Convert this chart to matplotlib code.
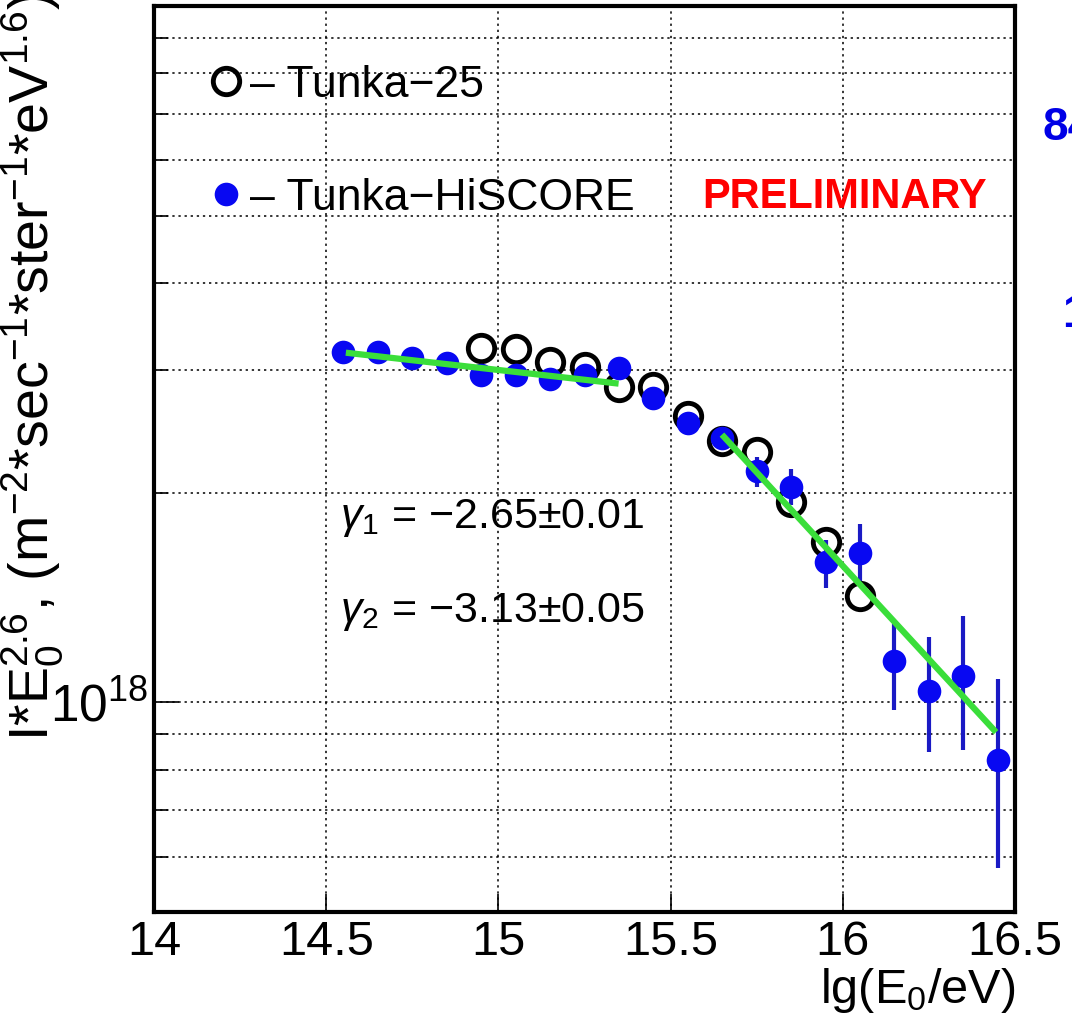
import matplotlib.pyplot as plt
import numpy as np
from matplotlib.ticker import FixedLocator, LogLocator, NullFormatter, FixedFormatter

plt.rcParams['font.family'] = ['Liberation Sans', 'DejaVu Sans']
plt.rcParams['mathtext.fontset'] = 'custom'
plt.rcParams['mathtext.rm'] = 'Liberation Sans'
plt.rcParams['mathtext.it'] = 'Liberation Sans:italic'
plt.rcParams['mathtext.bf'] = 'Liberation Sans:bold'

# Tunka-HiSCORE spectrum, I*E^2.6 in units of 1e18
lg_hiscore = np.array([14.55, 14.65, 14.75, 14.85, 14.95, 15.05, 15.15, 15.25, 15.35, 15.45,
                       15.55, 15.65, 15.75, 15.85, 15.95, 16.05, 16.15, 16.25, 16.35, 16.45])
flux_hiscore = np.array([3.18, 3.18, 3.12, 3.07, 2.95, 2.95, 2.91, 2.95, 3.02, 2.74,
                         2.52, 2.40, 2.15, 2.04, 1.59, 1.64, 1.145, 1.04, 1.09, 0.826])
err_lo = np.array([0.02, 0.02, 0.02, 0.02, 0.02, 0.02, 0.02, 0.02, 0.02, 0.03,
                   0.03, 0.04, 0.11, 0.12, 0.13, 0.155, 0.171, 0.192, 0.237, 0.248])
err_hi = np.array([0.02, 0.02, 0.02, 0.02, 0.02, 0.02, 0.02, 0.02, 0.02, 0.03,
                   0.03, 0.04, 0.10, 0.126, 0.12, 0.165, 0.149, 0.20, 0.239, 0.253])

# Tunka-25 spectrum
lg_t25 = np.array([14.95, 15.05, 15.15, 15.25, 15.35, 15.45, 15.55, 15.65, 15.75, 15.85, 15.95, 16.05])
flux_t25 = np.array([3.23, 3.22, 3.08, 3.03, 2.84, 2.84, 2.58, 2.37, 2.29, 1.94, 1.70, 1.42])

# power law fits
fit1_lg = np.array([14.557, 15.349])
fit1_flux = np.array([3.178, 2.869])
fit2_lg = np.array([15.649, 16.445])
fit2_flux = np.array([2.424, 0.906])

x_ticks = [14, 14.5, 15, 15.5, 16, 16.5]
x_labels = ['14', '14.5', '15', '15.5', '16', '16.5']

unit = 1e18

fig = plt.figure(figsize=(10.72, 10.22), dpi=100)
ax = fig.add_axes([154/1072, 1 - 912/1022, 861/1072, 906/1022])

ax.errorbar(lg_hiscore, flux_hiscore*unit, yerr=[err_lo*unit, err_hi*unit], fmt='none',
            ecolor='#1a1ac4', elinewidth=3, capsize=0, zorder=3)
circ, = ax.plot(lg_t25, flux_t25*unit, 'o', mfc='none', mec='k', ms=19, mew=3.5, zorder=3)
dots, = ax.plot(lg_hiscore, flux_hiscore*unit, 'o', color='#0808f2', ms=17, mew=0, zorder=4)
ax.plot(fit1_lg, fit1_flux*unit, color='#3ade3a', lw=4.5, zorder=5, solid_capstyle='butt')
ax.plot(fit2_lg, fit2_flux*unit, color='#3ade3a', lw=4.5, zorder=5, solid_capstyle='butt')

ax.set_yscale('log')
ax.set_xlim(14, 16.5)
ax.set_ylim(5e17, 1e19)

ax.yaxis.set_major_locator(FixedLocator([1e18]))
ax.yaxis.set_major_formatter(FixedFormatter([r'$10^{18}$']))
ax.yaxis.set_minor_locator(LogLocator(base=10, subs=np.arange(2, 10)))
ax.yaxis.set_minor_formatter(NullFormatter())
ax.set_xticks(x_ticks)
ax.set_xticklabels(x_labels)

dots_ls = (0, (1.5, 2.5))
ax.grid(True, axis='x', which='major', ls=dots_ls, color='k', lw=1.1)
ax.grid(True, axis='y', which='both', ls=dots_ls, color='k', lw=1.1)
ax.set_axisbelow(True)

for s in ax.spines.values():
    s.set_linewidth(3)

ax.tick_params(axis='x', direction='in', length=13, width=1.2, labelsize=35, pad=6,
               top=False)
ax.tick_params(axis='y', which='major', direction='in', length=18, width=1.2, labelsize=37, pad=4,
               right=False)
ax.tick_params(axis='y', which='minor', direction='in', length=10, width=1.2, right=False)

ax.legend([circ, dots], ['– Tunka−25', '– Tunka−HiSCORE'], loc='upper left',
          bbox_to_anchor=(0.063, 0.935), frameon=False, fontsize=32, handlelength=0.8,
          handletextpad=0.15, labelspacing=1.62, borderpad=0, borderaxespad=0)

fig.text(845/1072, 1 - 197/1022, 'PRELIMINARY', color='#ff0000', fontsize=30, fontweight='bold',
         family=['Liberation Sans Narrow', 'Liberation Sans'], ha='center', va='center')

fig.text(340/1072, 1 - 518/1022, r'$\gamma_1$ = −2.65±0.01', fontsize=31, ha='left', va='center')
fig.text(340/1072, 1 - 612/1022, r'$\gamma_2$ = −3.13±0.05', fontsize=31, ha='left', va='center')

fig.text(0.030, 1.008,
         r'I$*$E$_0^{2.6}$, (m$^{-2}$$*$sec$^{-1}$$*$ster$^{-1}$$*$eV$^{1.6}$)',
         rotation=90, ha='center', va='top', fontsize=40)
fig.text(1015/1072, 1 - 990/1022, r'lg(E$_0$/eV)', ha='right', va='center', fontsize=35)

fig.text(1042/1072, 1 - 128/1022, '84', color='#0000e6', fontsize=33, fontweight='bold',
         ha='left', va='center')
fig.text(1062/1072, 1 - 293/1022, '1', color='#0000e6', fontsize=33, fontweight='bold',
         ha='left', va='top')

fig.savefig('out.png', dpi=100)
